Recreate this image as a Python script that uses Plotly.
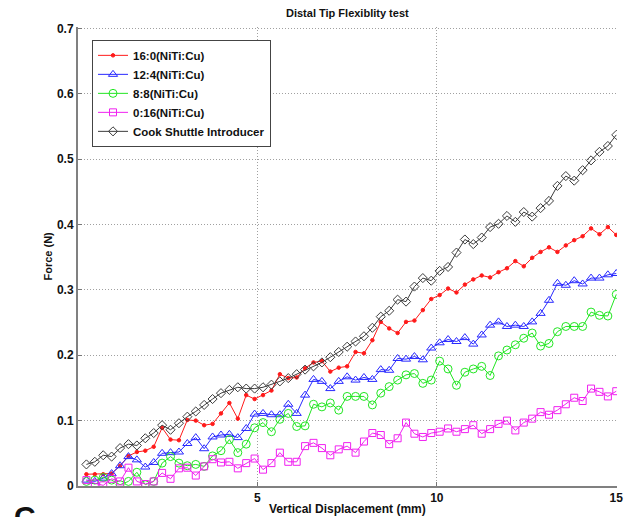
import numpy as np
import plotly.graph_objects as go

# sample positions along the displacement axis (64 equal steps up to 15 mm)
displacement = np.linspace(15 / 64, 15, 64)

force_16_0 = [0.018, 0.018, 0.018, 0.019, 0.031, 0.046, 0.052, 0.054, 0.060, 0.089,
              0.071, 0.070, 0.101, 0.100, 0.093, 0.095, 0.111, 0.127, 0.103, 0.139,
              0.133, 0.139, 0.146, 0.171, 0.165, 0.166, 0.180, 0.189, 0.191, 0.175,
              0.181, 0.183, 0.205, 0.203, 0.223, 0.251, 0.241, 0.234, 0.251, 0.253,
              0.269, 0.286, 0.292, 0.302, 0.296, 0.308, 0.316, 0.322, 0.319, 0.327,
              0.333, 0.344, 0.336, 0.349, 0.358, 0.365, 0.358, 0.368, 0.376, 0.382,
              0.394, 0.385, 0.396, 0.384]

force_12_4 = [0.009, 0.007, 0.012, 0.019, 0.031, 0.045, 0.040, 0.029, 0.036, 0.050,
              0.051, 0.052, 0.065, 0.074, 0.057, 0.075, 0.078, 0.079, 0.074, 0.088,
              0.110, 0.111, 0.109, 0.109, 0.125, 0.111, 0.139, 0.163, 0.160, 0.149,
              0.160, 0.167, 0.162, 0.166, 0.163, 0.178, 0.177, 0.195, 0.194, 0.198,
              0.193, 0.211, 0.219, 0.224, 0.221, 0.227, 0.217, 0.231, 0.246, 0.251,
              0.244, 0.246, 0.244, 0.251, 0.264, 0.284, 0.310, 0.307, 0.314, 0.309,
              0.318, 0.318, 0.323, 0.325]

force_8_8 = [0.007, 0.009, 0.013, 0.009, 0.002, 0.007, 0.021, 0.002, 0.007, 0.035,
             0.045, 0.035, 0.031, 0.033, 0.030, 0.046, 0.054, 0.071, 0.051, 0.064,
             0.089, 0.097, 0.083, 0.102, 0.111, 0.091, 0.092, 0.125, 0.121, 0.127,
             0.116, 0.137, 0.137, 0.137, 0.124, 0.142, 0.152, 0.162, 0.170, 0.172,
             0.157, 0.162, 0.191, 0.179, 0.154, 0.174, 0.179, 0.183, 0.169, 0.199,
             0.208, 0.216, 0.226, 0.234, 0.214, 0.218, 0.236, 0.244, 0.244, 0.244,
             0.266, 0.261, 0.260, 0.293]

force_0_16 = [0.009, 0.004, 0.001, 0.011, 0.007, 0.028, 0.007, 0.003, 0.007, 0.020,
              0.011, 0.027, 0.028, 0.016, 0.030, 0.041, 0.036, 0.037, 0.027, 0.035,
              0.042, 0.025, 0.035, 0.051, 0.037, 0.037, 0.061, 0.066, 0.058, 0.047,
              0.056, 0.061, 0.051, 0.068, 0.081, 0.078, 0.064, 0.073, 0.097, 0.080,
              0.075, 0.081, 0.083, 0.088, 0.083, 0.087, 0.093, 0.080, 0.087, 0.095,
              0.100, 0.085, 0.097, 0.103, 0.113, 0.109, 0.116, 0.125, 0.135, 0.130,
              0.149, 0.144, 0.137, 0.145]

force_cook = [0.033, 0.037, 0.047, 0.045, 0.058, 0.064, 0.062, 0.073, 0.081, 0.093,
              0.086, 0.096, 0.106, 0.114, 0.124, 0.133, 0.142, 0.147, 0.151, 0.149,
              0.149, 0.151, 0.155, 0.160, 0.165, 0.171, 0.178, 0.183, 0.189, 0.197,
              0.205, 0.213, 0.221, 0.229, 0.242, 0.259, 0.268, 0.285, 0.282, 0.305,
              0.318, 0.314, 0.329, 0.335, 0.357, 0.377, 0.370, 0.380, 0.396, 0.401,
              0.413, 0.404, 0.419, 0.412, 0.425, 0.436, 0.459, 0.474, 0.467, 0.483,
              0.498, 0.511, 0.520, 0.537]

series = [
    ('16:0(NiTi:Cu)', force_16_0, '#FF1A1A', 'circle', 3.5),
    ('12:4(NiTi:Cu)', force_12_4, '#2929FF', 'triangle-up-open', 8),
    ('8:8(NiTi:Cu)', force_8_8, '#22E622', 'circle-open', 8),
    ('0:16(NiTi:Cu)', force_0_16, '#F020F0', 'square-open', 7),
    ('Cook Shuttle Introducer', force_cook, '#3C3C3C', 'diamond-open', 7),
]

fig = go.Figure()
for name, vals, color, symbol, size in series:
    fig.add_trace(go.Scatter(
        x=displacement, y=vals, name=name, mode='lines+markers',
        line=dict(color=color, width=1),
        marker=dict(symbol=symbol, size=size, color=color, line=dict(color=color, width=1)),
    ))

BOLD = dict(family='Arial', size=12, color='#111111', weight='bold')

fig.update_layout(
    width=627, height=517,
    margin=dict(l=78, r=10, t=27, b=31),
    paper_bgcolor='#FFFFFF',
    plot_bgcolor='#FFFFFF',
    font=dict(family='Arial', color='#111111'),
    legend=dict(x=0.026, y=0.972, xanchor='left', yanchor='top',
                bgcolor='#FFFFFF', bordercolor='#444444', borderwidth=1,
                font=dict(family='Arial', size=11.5, color='#111111', weight='bold'),
                tracegroupgap=0, itemwidth=30),
    showlegend=True,
)

fig.update_xaxes(
    range=[0, 15.02], tickvals=[5, 10, 15], ticks='inside', ticklen=4, tickcolor='#777777',
    showline=True, linecolor='#808080', linewidth=2,
    showgrid=True, gridcolor='#A0A0A0', griddash='1px,2px', gridwidth=1,
    zeroline=False, tickfont=BOLD, automargin=False, ticklabeloverflow='allow',
)
fig.update_yaxes(
    range=[0, 0.702], tickvals=[0, 0.1, 0.2, 0.3, 0.4, 0.5, 0.6, 0.7],
    ticktext=['0', '0.1', '0.2', '0.3', '0.4', '0.5', '0.6', '0.7'],
    ticks='inside', ticklen=4, tickcolor='#777777',
    showline=True, linecolor='#808080', linewidth=2,
    showgrid=True, gridcolor='#A0A0A0', griddash='1px,2px', gridwidth=1,
    zeroline=False, tickfont=BOLD, automargin=False, ticklabeloverflow='allow',
)

# title and axis titles placed as annotations
fig.add_annotation(text='Distal Tip Flexiblity test', xref='paper', yref='paper',
                   x=0.5, y=1.031, xanchor='center', yanchor='middle', showarrow=False,
                   font=dict(family='Arial', size=11, color='#111111', weight='bold'))
fig.add_annotation(text='Vertical Displacement (mm)', xref='paper', yref='paper',
                   x=0.5, y=-0.05, xanchor='center', yanchor='middle', showarrow=False,
                   font=BOLD)
fig.add_annotation(text='Force (N)', xref='paper', yref='paper', textangle=-90,
                   x=-0.0575, y=0.5, xanchor='center', yanchor='middle', showarrow=False,
                   font=dict(family='Arial', size=11, color='#111111', weight='bold'))

# panel letter, partly cut off at the bottom edge as in the source
fig.add_annotation(text='C', xref='paper', yref='paper', x=-0.098, y=-0.066,
                   xanchor='center', yanchor='middle', showarrow=False,
                   font=dict(family='Arial', size=30, color='#111111', weight='bold'))

# drop the default body margin so the figure sits at the page origin
fig.write_html('out.html', config={'displayModeBar': False},
               post_script="document.body.style.margin='0';document.body.style.overflow='hidden';")
